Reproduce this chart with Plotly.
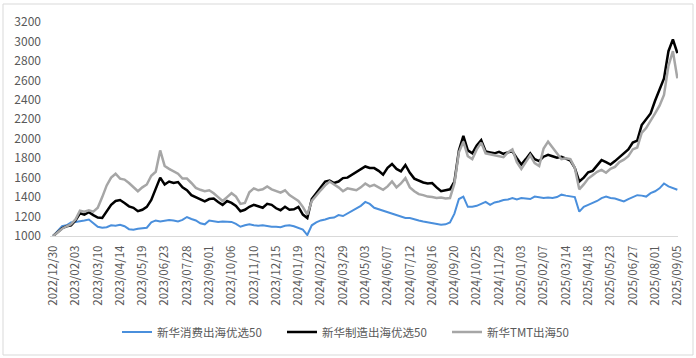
import pandas as pd
import plotly.graph_objects as go

# weekly observation dates (every Friday from 2022/12/30)
start_date = "2022-12-30"
n_weeks = 141

consumer = [
    1000, 1050, 1100, 1110, 1140, 1145, 1150, 1160, 1170, 1130,
    1095, 1085, 1090, 1110, 1105, 1115, 1100, 1070, 1065, 1075,
    1080, 1085, 1140, 1160, 1150, 1160, 1165, 1160, 1150, 1165,
    1195, 1175, 1160, 1130, 1120, 1160, 1150, 1145, 1150, 1150,
    1145, 1125, 1095, 1110, 1120, 1110, 1105, 1110, 1100, 1095,
    1095, 1090, 1105, 1110, 1100, 1085, 1065, 1010, 1110, 1140,
    1160, 1170, 1185, 1190, 1215, 1205, 1230, 1260, 1285, 1310,
    1350, 1330, 1290, 1275, 1255, 1240, 1230, 1215, 1200, 1185,
    1185, 1170, 1160, 1150, 1140, 1130, 1125, 1115, 1120, 1140,
    1230, 1380, 1405, 1300, 1300, 1310, 1330, 1350, 1320, 1345,
    1355, 1370, 1375, 1390, 1375, 1390, 1385, 1380, 1405, 1400,
    1390, 1395, 1390, 1400, 1425, 1415, 1410, 1400, 1250, 1300,
    1320, 1340, 1360, 1390, 1405, 1390, 1385, 1370, 1355, 1380,
    1400, 1420, 1415, 1405, 1440, 1460, 1490, 1540, 1510, 1495,
    1475,
]

manufacturing = [
    1000, 1040, 1080, 1100, 1110, 1160, 1234, 1220, 1245, 1215,
    1190, 1185, 1260, 1320, 1360, 1370, 1340, 1305, 1290, 1255,
    1270, 1300, 1370, 1480, 1600, 1530, 1560, 1545, 1555, 1500,
    1470, 1420, 1400, 1380, 1355, 1380, 1385, 1350, 1320, 1360,
    1340, 1310, 1255, 1270, 1300, 1320, 1305, 1290, 1330, 1320,
    1285, 1265, 1300, 1270, 1275, 1300, 1220, 1185, 1380, 1440,
    1490, 1560, 1570, 1545, 1560, 1595, 1600, 1630, 1660, 1690,
    1715, 1700, 1698, 1670, 1630, 1700, 1740, 1690, 1665, 1730,
    1650, 1590, 1570, 1550, 1540, 1545, 1500, 1460, 1470, 1480,
    1560, 1880, 2030, 1880, 1850, 1930, 1985, 1870, 1860, 1850,
    1865, 1845, 1860, 1870, 1800, 1735, 1790, 1850, 1790, 1770,
    1815, 1835, 1820, 1805, 1815, 1795, 1775, 1700, 1560, 1600,
    1655, 1670, 1730, 1780, 1760, 1735, 1770, 1810, 1850, 1890,
    1960, 1980, 2140, 2200, 2260, 2390, 2500, 2620, 2900, 3020,
    2880,
]

tmt = [
    1000, 1040, 1075, 1100, 1120, 1170, 1260, 1250, 1265, 1250,
    1290, 1400, 1520, 1600, 1640, 1590, 1580, 1545, 1500, 1460,
    1500, 1530, 1620, 1660, 1880, 1720, 1690, 1665, 1640, 1590,
    1590, 1545, 1495, 1475, 1460, 1470, 1440, 1400, 1360, 1400,
    1440, 1405, 1330, 1340, 1450, 1490, 1470, 1480, 1510, 1480,
    1460, 1445, 1470, 1420, 1390, 1360, 1300, 1220, 1360, 1420,
    1470, 1520, 1560, 1530, 1500, 1460, 1490, 1480, 1470, 1500,
    1540, 1510, 1525, 1500, 1475, 1510, 1560, 1500, 1540, 1595,
    1500, 1460, 1430, 1420, 1405, 1400, 1390, 1395, 1385, 1390,
    1540, 1860, 1970, 1820, 1790, 1890, 1960, 1850, 1840, 1830,
    1820, 1810, 1860, 1890, 1760, 1690, 1760, 1830, 1750, 1720,
    1900, 1970, 1910, 1850, 1790, 1800, 1790, 1700, 1480, 1530,
    1590, 1625, 1660, 1680, 1650, 1690, 1710, 1760, 1785, 1820,
    1890, 1910, 2060, 2110, 2180, 2260, 2340, 2450, 2750, 2900,
    2620,
]

series_names = ["新华消费出海优选50", "新华制造出海优选50", "新华TMT出海50"]
series_colors = ["#4A8FDC", "#000000", "#A6A6A6"]
series_widths = [2, 2.5, 2.5]

dates = pd.date_range(start_date, periods=n_weeks, freq="7D")
tick_dates = pd.date_range("2022-12-30", "2025-09-05", freq="35D")
tick_text = [d.strftime("%Y/%m/%d") for d in tick_dates]

fig = go.Figure()
for name, vals, col, w in zip(series_names, [consumer, manufacturing, tmt],
                              series_colors, series_widths):
    fig.add_trace(go.Scatter(x=dates, y=vals, mode="lines", name=name,
                             line=dict(color=col, width=w)))

L, R, T, B = 50, 18, 22, 122
W, H = 696, 358
pw, ph = W - L - R, H - T - B

def px_x(p):
    return (p - L) / pw

def px_y(p):
    return (H - B - p) / ph

fig.update_layout(
    width=W, height=H,
    margin=dict(l=L, r=R, t=T, b=B, autoexpand=False),
    paper_bgcolor="white", plot_bgcolor="white",
    font=dict(family="Noto Sans CJK SC, Noto Sans, sans-serif", size=12, color="#595959"),
    showlegend=True,
    legend=dict(orientation="h", x=px_x(117), xanchor="left", y=px_y(332), yanchor="middle",
                font=dict(size=11.5, color="#595959"), itemwidth=30, tracegroupgap=0,
                entrywidth=120, entrywidthmode="pixels"),
    xaxis=dict(
        type="date", automargin=False,
        range=["2022-12-25", "2025-09-06"],
        tickvals=list(tick_dates), ticktext=tick_text,
        tickangle=-90, showgrid=False, zeroline=False,
        showline=True, linecolor="#D9D9D9", linewidth=1,
        ticks="", ticklabelstandoff=4, tickfont=dict(size=11.5, color="#595959"),
    ),
    yaxis=dict(
        range=[1000, 3200], dtick=200, tick0=1000, automargin=False,
        showgrid=False, zeroline=False, showline=False, ticks="",
        ticklabelstandoff=8, tickfont=dict(size=12, color="#595959"),
    ),
    shapes=[dict(type="rect", xref="paper", yref="paper",
                 x0=px_x(3), x1=px_x(693), y0=px_y(355), y1=px_y(4),
                 line=dict(color="#D9D9D9", width=1), fillcolor="rgba(0,0,0,0)",
                 layer="below")],
)

fig.write_html("out.html", config={"displayModeBar": False},
               post_script="document.body.style.margin='0';document.body.style.overflow='hidden';")
